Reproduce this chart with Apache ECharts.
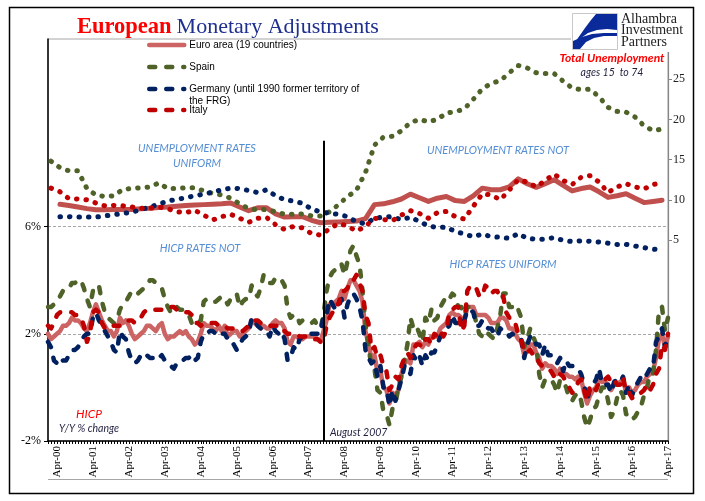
<!DOCTYPE html>
<html><head><meta charset="utf-8">
<script src="https://cdn.jsdelivr.net/npm/echarts@6.0.0/dist/echarts.min.js"></script>
<style>html,body{margin:0;padding:0;background:#fff}#c{width:705px;height:501px}</style>
</head><body><div id="c"></div>
<script>
// ---------- DATA ----------
const firstYear = 2000, lastYear = 2017, lastMonthIdx = 3; // Jan-2000 .. Apr-2017
const monthNames = ['Jan','Feb','Mar','Apr','May','Jun','Jul','Aug','Sep','Oct','Nov','Dec'];

// HICP, Y/Y % change, monthly (left axis)
const hicpEuro = [
 2.0,1.8,1.9,2.0,2.1,2.3,2.3,2.4,2.6,2.5,2.5,2.4,
 2.2,2.1,2.4,2.8,3.1,2.8,2.5,2.3,2.1,2.1,1.9,2.1,
 2.6,2.4,2.5,2.3,2.0,1.8,1.9,2.0,2.1,2.3,2.3,2.2,
 2.1,2.3,2.4,2.0,1.8,1.9,1.9,2.0,2.1,2.0,2.1,1.9,
 1.8,1.6,1.7,2.0,2.4,2.3,2.3,2.2,2.1,2.3,2.1,2.3,
 1.9,2.0,2.1,2.1,1.9,2.0,2.1,2.2,2.5,2.4,2.3,2.2,
 2.3,2.2,2.2,2.4,2.5,2.4,2.4,2.2,1.7,1.6,1.9,1.9,
 1.8,1.8,1.9,1.9,1.9,1.9,1.8,1.7,2.1,2.5,3.1,3.1,
 3.2,3.3,3.6,3.3,3.7,4.0,4.0,3.8,3.6,3.2,2.1,1.6,
 1.1,1.2,0.6,0.6,0.0,-0.1,-0.6,-0.2,-0.3,-0.1,0.5,0.9,
 1.0,0.9,1.6,1.6,1.7,1.5,1.7,1.6,1.9,1.9,1.9,2.2,
 2.3,2.4,2.7,2.8,2.7,2.7,2.6,2.5,3.0,3.0,3.0,2.7,
 2.7,2.7,2.7,2.6,2.4,2.4,2.4,2.6,2.6,2.5,2.2,2.2,
 2.0,1.8,1.7,1.2,1.4,1.6,1.6,1.3,1.1,0.7,0.9,0.8,
 0.8,0.7,0.5,0.7,0.5,0.5,0.4,0.4,0.3,0.4,0.3,-0.2,
 -0.6,-0.3,-0.1,0.0,0.3,0.2,0.2,0.1,-0.1,0.1,0.1,0.2,
 0.3,-0.2,0.0,-0.2,-0.1,0.1,0.2,0.2,0.4,0.5,0.6,1.1,
 1.8,2.0,1.5,1.9];
const hicpSpain = [
 3.0,3.0,3.1,3.2,3.4,3.6,3.6,3.7,3.9,3.9,4.0,4.0,
 3.7,3.3,3.0,3.6,3.8,3.8,3.2,2.8,2.6,2.5,2.4,2.5,
 2.9,3.1,3.2,3.4,3.6,3.5,3.5,3.6,3.7,3.8,4.0,4.0,
 3.9,3.8,3.7,3.3,3.0,2.8,3.0,3.0,2.9,2.9,2.8,2.7,
 2.4,2.3,2.4,2.5,3.2,3.3,3.2,3.2,3.2,3.3,3.4,3.3,
 3.1,3.3,3.4,3.5,3.0,3.2,3.3,3.3,3.8,3.5,3.4,3.7,
 4.2,4.1,3.9,3.9,4.1,4.0,4.0,3.8,2.9,2.6,2.7,2.7,
 2.4,2.5,2.5,2.5,2.4,2.5,2.3,2.2,2.7,3.6,4.1,4.3,
 4.4,4.4,4.6,4.2,4.7,5.1,5.3,4.9,4.6,3.6,2.4,1.5,
 0.8,0.7,-0.1,-0.2,-0.9,-1.0,-1.4,-0.8,-0.6,0.0,0.4,1.0,
 1.6,2.6,2.2,2.3,2.0,1.7,2.6,2.4,2.9,2.5,2.6,3.0,
 3.2,3.4,3.3,3.5,3.4,3.0,3.0,2.7,3.0,3.0,2.9,2.4,
 2.0,1.9,1.8,2.0,1.9,1.8,2.2,2.7,3.5,3.5,3.0,3.0,
 2.8,2.9,2.6,1.5,1.8,2.2,1.9,1.6,0.5,0.0,0.3,0.3,
 0.3,0.1,-0.2,0.3,0.2,0.0,-0.4,-0.5,-0.3,-0.2,-0.5,-1.1,
 -1.5,-1.2,-0.8,-0.7,-0.3,0.0,0.0,-0.5,-1.1,-0.9,-0.4,-0.1,
 -0.3,-1.0,-1.0,-1.2,-1.1,-0.9,-0.7,-0.3,0.0,0.5,0.5,1.4,
 2.9,3.0,2.1,2.6];
const hicpGermany = [
 1.7,1.5,1.0,0.9,1.1,1.0,1.0,1.2,1.4,1.4,1.5,1.7,
 1.9,2.0,2.0,2.6,2.8,2.5,2.3,2.1,1.9,1.7,1.4,1.3,
 2.1,1.9,1.8,1.3,1.0,0.9,1.0,1.2,1.1,1.2,1.1,1.1,
 1.0,1.1,1.2,1.0,0.9,0.8,0.7,0.9,1.0,1.0,1.1,1.1,
 1.2,1.0,1.1,1.7,2.0,2.0,2.1,2.1,2.0,2.1,2.0,2.0,
 1.8,1.8,1.6,1.4,1.6,1.8,1.9,2.0,2.6,2.5,2.3,2.2,
 2.1,2.1,1.9,2.3,2.1,2.0,2.1,1.8,1.0,1.1,1.5,1.4,
 1.8,1.9,2.0,2.0,2.0,2.0,2.0,2.0,2.7,2.7,3.3,3.1,
 2.9,3.0,3.3,2.6,3.1,3.4,3.5,3.3,3.0,2.5,1.4,1.1,
 0.9,1.0,0.4,0.8,0.0,0.0,-0.7,-0.1,-0.5,-0.1,0.3,0.8,
 0.8,0.5,1.2,1.0,1.2,0.8,1.2,1.0,1.3,1.3,1.6,1.9,
 2.0,2.2,2.3,2.7,2.4,2.4,2.6,2.5,2.9,2.9,2.8,2.3,
 2.3,2.5,2.3,2.2,2.2,2.0,1.9,2.2,2.1,2.1,1.9,2.0,
 1.9,1.8,1.8,1.1,1.6,1.9,1.9,1.6,1.6,1.2,1.6,1.2,
 1.2,1.0,0.9,1.1,0.6,1.0,0.8,0.8,0.8,0.7,0.5,0.1,
 -0.5,0.0,0.1,0.3,0.7,0.1,0.1,0.1,-0.2,0.2,0.3,0.2,
 0.4,-0.2,0.1,-0.3,0.0,0.2,0.4,0.3,0.5,0.7,0.7,1.7,
 1.9,2.2,1.5,2.0];
const hicpItaly = [
 2.3,2.2,2.4,2.7,2.8,2.8,2.8,2.8,2.8,2.7,2.7,2.6,
 2.3,1.7,2.0,2.8,2.9,2.8,2.4,2.2,2.3,2.3,2.3,2.3,
 2.3,2.4,2.5,2.5,2.5,2.4,2.5,2.6,2.8,2.9,2.9,2.9,
 2.9,2.9,2.9,2.9,2.9,3.0,3.0,2.9,2.9,2.8,2.8,2.8,
 2.7,2.4,2.4,2.3,2.4,2.4,2.4,2.4,2.4,2.3,2.3,2.3,
 2.2,2.2,2.2,2.1,2.1,2.1,2.2,2.3,2.4,2.5,2.5,2.4,
 2.4,2.4,2.3,2.3,2.3,2.3,2.1,2.1,2.0,2.0,2.0,2.0,
 1.9,1.9,1.9,1.9,1.8,1.8,1.8,1.7,1.7,2.3,2.6,2.8,
 3.1,3.1,3.6,3.6,3.7,4.0,4.0,4.2,3.9,3.6,2.7,2.4,
 1.4,1.5,1.1,1.2,0.8,0.6,-0.1,0.1,0.4,0.3,0.8,1.1,
 1.3,1.1,1.4,1.6,1.6,1.5,1.8,1.8,1.6,2.0,1.9,2.1,
 1.9,2.1,2.8,2.9,3.0,3.0,2.1,2.3,3.6,3.8,3.7,3.7,
 3.4,3.4,3.8,3.7,3.5,3.6,3.6,3.3,3.4,2.8,2.6,2.6,
 2.4,2.0,1.8,1.3,1.3,1.4,1.2,1.2,0.9,0.8,0.7,0.7,
 0.6,0.4,0.3,0.5,0.4,0.2,0.0,-0.2,-0.1,0.2,0.3,-0.1,
 -0.5,0.1,0.0,-0.1,0.2,0.2,0.3,0.4,0.2,0.3,0.1,0.1,
 0.4,-0.2,-0.2,-0.4,-0.3,-0.2,-0.2,-0.1,0.1,-0.1,0.1,0.5,
 0.7,1.6,1.4,2.0];

// Total unemployment (ages 15-74), %, quarterly 2000Q1..2017Q1 (right axis)
const unempEuro = [null,9.45,9.3,9.1,8.9,8.75,8.75,8.8,8.8,8.8,
 8.9,8.95,9.05,9.1,9.2,9.3,9.35,9.4,9.45,9.5,
 9.6,9.1,8.65,9.0,9.0,8.25,7.85,7.9,7.9,7.45,
 7.15,7.2,7.25,7.3,7.35,7.65,9.4,9.5,9.75,10.1,
 10.7,10.25,9.8,10.2,10.4,9.9,9.8,10.5,11.45,11.25,
 11.25,11.6,12.6,12.0,11.55,12.0,12.5,11.8,11.1,11.4,
 11.6,11.0,10.3,10.5,10.75,10.2,9.65,9.8,9.95];
const unempSpain = [14.8,14.0,13.6,13.6,11.4,10.6,10.4,10.5,11.3,11.4,
 11.5,11.6,12.1,11.4,11.4,11.5,11.5,11.1,10.8,10.6,
 10.2,9.5,8.9,8.75,8.8,8.5,8.2,8.2,8.25,8.0,
 8.0,8.5,9.4,10.4,11.2,13.4,16.8,17.8,17.9,18.6,
 19.6,20.0,19.7,20.0,20.8,20.95,21.3,22.5,23.8,24.5,
 24.8,25.8,26.7,26.4,25.8,25.7,25.7,24.75,23.9,23.7,
 23.75,22.8,21.5,21.0,20.9,20.3,19.2,18.6,18.8];
const unempGermany = [null,7.9,7.9,7.85,7.85,7.85,8.0,8.15,8.3,8.45,
 8.8,9.1,9.45,9.85,10.05,10.25,10.5,10.7,10.95,11.25,
 11.45,11.4,11.15,10.9,11.25,10.5,10.0,9.85,9.55,8.85,
 8.5,8.3,8.2,7.9,7.25,7.0,7.7,7.85,7.9,7.5,
 7.85,7.3,6.75,6.55,6.6,6.05,5.75,5.4,5.75,5.4,
 5.35,5.2,5.8,5.2,5.1,5.1,5.3,4.95,4.8,4.9,
 4.85,4.75,4.6,4.45,4.45,4.25,4.05,3.85,3.8];
const unempItaly = [11.45,11.0,10.15,10.1,10.0,9.6,9.25,9.3,9.25,9.1,
 8.95,8.95,9.1,8.9,8.5,8.4,8.7,8.1,7.5,7.9,
 8.2,7.7,7.2,7.7,7.8,6.9,6.3,6.7,6.5,5.8,
 5.6,6.4,7.05,6.75,6.1,6.7,7.7,7.55,7.4,8.1,
 8.65,8.3,7.7,8.4,8.55,7.9,7.6,9.2,10.75,10.6,
 10.0,11.2,12.5,12.2,11.6,12.4,13.2,12.4,11.9,12.8,
 13.0,12.2,10.9,11.6,12.0,11.6,11.35,11.9,12.1];

const leftLabels = [-2, 2, 6];
const rightLabels = [5, 10, 15, 20, 25];
const names = ['Euro area (19 countries)', 'Spain', 'Germany (until 1990 former territory of the FRG)', 'Italy'];
const markerMonth = 'Sep-07';

// ---------- BUILD ----------
const categories = [];
for (let y = firstYear; y <= lastYear; y++) {
  for (let m = 0; m < 12; m++) {
    if (y === lastYear && m > lastMonthIdx) break;
    categories.push(monthNames[m] + '-' + String(y).slice(2));
  }
}
function quarterlyOnMonths(q) {
  const out = new Array(categories.length).fill(null);
  q.forEach((v, i) => { const idx = i * 3 + 1; if (idx < out.length) out[idx] = v; });
  return out;
}
const C = { euro: '#C0504D', euroH: '#CC6464', spain: '#4F6228', germany: '#002060', italy: '#C00000' };
const dash = [6, 11];
const dot = [0.5, 9];

function unempSeries(name, data, color, solid) {
  return {
    name, type: 'line', yAxisIndex: 1, data: quarterlyOnMonths(data), connectNulls: true,
    symbol: 'none', silent: true, z: 2,
    lineStyle: solid ? { color, width: 5, cap: 'round', join: 'round' }
                     : { color, width: 5, type: dot, cap: 'round', join: 'round' }
  };
}
function hicpSeries(name, data, color, solid, extra) {
  return Object.assign({
    name, type: 'line', yAxisIndex: 0, data, symbol: 'none', silent: true, z: 3,
    lineStyle: solid ? { color, width: 4.5, cap: 'round', join: 'round' }
                     : { color, width: 4.5, type: dash, cap: 'round', join: 'round' }
  }, extra || {});
}

const ann = (text, x, y, style) => ({
  type: 'text', x, y, z: 120,
  style: Object.assign({ text, fontFamily: 'Lato', fontStyle: 'italic', fontSize: 11, fill: '#558ED5', align: 'center', verticalAlign: 'middle' }, style || {})
});

function legendAt(name, top, formatter) {
  const l = {
    data: [name], left: 147, top, padding: 0, itemWidth: 35, itemHeight: 10, itemGap: 0,
    selectedMode: false, orient: 'vertical',
    textStyle: { fontFamily: 'Liberation Sans', fontSize: 10, color: '#000', lineHeight: 12 },
    lineStyle: { width: 4.5 },
    itemStyle: { opacity: 0 }
  };
  if (formatter) l.formatter = formatter;
  return l;
}

const option = {
  animation: false,
  backgroundColor: '#fff',
  title: {
    text: '{a|European} {b|Monetary Adjustments}',
    left: 72, top: 11,
    textStyle: { rich: {
      a: { fontFamily: 'Liberation Serif', fontWeight: 'bold', fontSize: 22.5, color: '#FF0000' },
      b: { fontFamily: 'Liberation Serif', fontWeight: 'normal', fontSize: 22, color: '#1F2F8F' }
    } }
  },
  legend: [
    legendAt(names[0], 39),
    legendAt(names[1], 61),
    legendAt(names[2], 71, () => '\nGermany (until 1990 former territory of\nthe FRG)'),
    legendAt(names[3], 104)
  ],
  grid: { left: 48, right: 37, top: 39, bottom: 60, show: true, borderColor: '#A6A6A6', borderWidth: 1 },
  xAxis: {
    type: 'category', data: categories, boundaryGap: false,
    axisLine: { onZero: false, lineStyle: { color: '#000', width: 1.5 } },
    axisTick: { interval: 0, length: 3, lineStyle: { color: '#000', width: 1 } },
    axisLabel: { interval: (i) => i % 12 === 3, rotate: 90, margin: 5, fontFamily: 'Liberation Serif', fontSize: 11, color: '#000' },
    splitLine: { show: false }
  },
  yAxis: [
    { type: 'value', position: 'left', min: -2, max: 13, interval: 4,
      axisLine: { show: true, lineStyle: { color: '#000', width: 1.5 } },
      axisTick: { show: true, length: 4, customValues: leftLabels, lineStyle: { color: '#000' } },
      axisLabel: { customValues: leftLabels, formatter: v => v + '%', fontFamily: 'Liberation Serif', fontSize: 12, color: '#000', margin: 7 },
      splitLine: { show: true, lineStyle: { color: '#A6A6A6', width: 1, type: [3, 2] } } },
    { type: 'value', position: 'right', min: -20, max: 30, interval: 5,
      axisLine: { show: true, lineStyle: { color: '#868686', width: 1.2 } },
      axisTick: { show: true, length: 4, customValues: rightLabels, lineStyle: { color: '#868686' } },
      axisLabel: { customValues: rightLabels, fontFamily: 'Liberation Serif', fontSize: 12, color: '#222', margin: 5 },
      splitLine: { show: false } }
  ],
  series: [
    unempSeries('Euro area unemployment', unempEuro, C.euro, true),
    unempSeries('Spain unemployment', unempSpain, C.spain),
    unempSeries('Germany unemployment', unempGermany, C.germany),
    unempSeries('Italy unemployment', unempItaly, C.italy),
    hicpSeries(names[0], hicpEuro, C.euroH, true, {
      markLine: { silent: true, symbol: 'none', label: { show: false }, z: 10,
        lineStyle: { color: '#000', width: 2, type: 'solid' },
        data: [[{ coord: [markerMonth, 9.2] }, { coord: [markerMonth, -2] }]] }
    }),
    hicpSeries(names[1], hicpSpain, C.spain),
    hicpSeries(names[2], hicpGermany, C.germany),
    hicpSeries(names[3], hicpItaly, C.italy)
  ],
  graphic: [
    { type: 'rect', z: 100, shape: { x: 9.5, y: 7.5, width: 684, height: 486 }, style: { fill: 'none', stroke: '#000', lineWidth: 1.5 } },
    { type: 'line', z: 100, shape: { x1: 48, y1: 479.5, x2: 668, y2: 479.5 }, style: { stroke: '#A6A6A6', lineWidth: 1 } },
    { type: 'rect', z: 101, shape: { x: 571, y: 9, width: 121, height: 43 }, style: { fill: '#fff' } },
    { type: 'rect', z: 102, shape: { x: 572.5, y: 13.5, width: 45, height: 36 }, style: { fill: '#fff', stroke: '#C8C8C8', lineWidth: 1 } },
    { type: 'polygon', z: 103, shape: { points: [[596,14],[617,14],[617,30],[607,29],[597,30],[588,33],[581,38],[577,43],[574,49],[573,49],[573,46],[578,38],[585,28],[591,20]] }, style: { fill: '#0A2A9A' } },
    { type: 'polygon', z: 103, shape: { points: [[573,49],[573,41],[582,37],[592,34],[604,33],[617,33],[617,36],[604,36],[594,38],[586,42],[580,49]] }, style: { fill: '#0A2A9A' } },
    { type: 'text', z: 104, x: 621, y: 13, style: { text: 'Alhambra\nInvestment\nPartners', fontFamily: 'Liberation Serif', fontSize: 14, lineHeight: 11.7, fill: '#222', align: 'left', verticalAlign: 'top' } },
    ann('Total Unemployment', 612, 58, { fill: '#FF0000', fontWeight: 'bold', fontSize: 12 }),
    ann('ages 15  to 74', 612, 73, { fill: '#1F1F3F', fontSize: 10.5 }),
    ann('UNEMPLOYMENT RATES', 197, 148),
    ann('UNIFORM', 197, 163),
    ann('UNEMPLOYMENT RATES NOT', 498, 150),
    ann('HICP RATES NOT', 200, 248),
    ann('HICP RATES UNIFORM', 503, 264),
    ann('HICP', 89, 414, { fill: '#FF0000', fontSize: 12 }),
    ann('Y/Y % change', 89, 429, { fill: '#1F1F3F', fontSize: 10.5 }),
    ann('August 2007', 330, 433, { fill: '#1F1F3F', fontSize: 10.5, align: 'left' })
  ]
};
const chart = echarts.init(document.getElementById('c'), null, { renderer: 'canvas' });
chart.setOption(option);
</script></body></html>
